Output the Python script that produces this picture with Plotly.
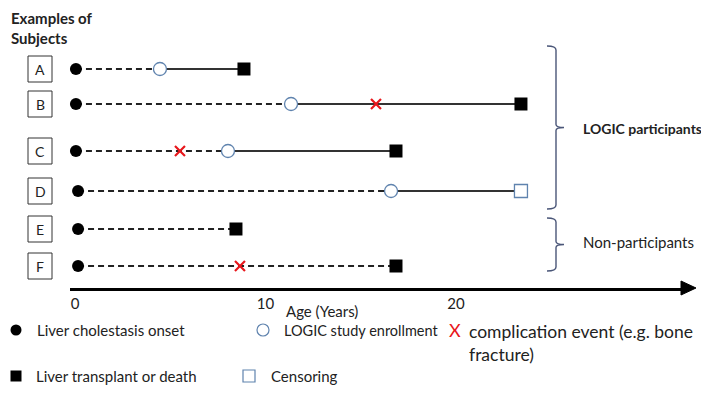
import plotly.graph_objects as go

# ---------------- data ----------------
subjects = ["A", "B", "C", "D", "E", "F"]
onset = [0.05, 0.05, 0.05, 0.16, 0.16, 0.16]
enroll = [4.46, 11.34, 8.03, 16.59, None, None]
end_age = [8.87, 23.41, 16.85, 23.41, 8.45, 16.85]
end_type = ["event", "event", "event", "censor", "event", "event"]
complication = [None, 15.8, 5.51, None, None, 8.66]
tick_vals = [0, 10, 20]
tick_text = ["0", "10", "20"]

W, H = 709, 412
row_y = [61, 96, 143, 183, 221, 258]   # pixel rows (layout)
FONT = "Lato, 'Noto Sans', sans-serif"
OPEN_COL = "#5F83AE"
BRACE_COL = "#4A5678"

fig = go.Figure()

# ---------------- timelines ----------------
for i, s in enumerate(subjects):
    y = row_y[i]
    stop_dash = enroll[i] if enroll[i] is not None else end_age[i]
    fig.add_trace(go.Scatter(x=[onset[i], stop_dash], y=[y, y], mode="lines",
                             line=dict(color="#222222", width=2, dash="6px,4px"),
                             hoverinfo="skip", showlegend=False, xaxis="x", yaxis="y"))
    if enroll[i] is not None:
        fig.add_trace(go.Scatter(x=[enroll[i], end_age[i]], y=[y, y], mode="lines",
                                 line=dict(color="#333333", width=1.8),
                                 hoverinfo="skip", showlegend=False, xaxis="x", yaxis="y"))

# onset markers
fig.add_trace(go.Scatter(x=onset, y=row_y, mode="markers",
                         marker=dict(symbol="circle", size=12, color="black"),
                         showlegend=False, cliponaxis=False))
# enrollment markers
ex = [e for e in enroll if e is not None]
ey = [row_y[i] for i, e in enumerate(enroll) if e is not None]
fig.add_trace(go.Scatter(x=ex, y=ey, mode="markers",
                         marker=dict(symbol="circle", size=13, color="white",
                                     line=dict(color=OPEN_COL, width=1.3)),
                         showlegend=False, cliponaxis=False))
# end markers
tx = [end_age[i] for i in range(6) if end_type[i] == "event"]
ty = [row_y[i] for i in range(6) if end_type[i] == "event"]
fig.add_trace(go.Scatter(x=tx, y=ty, mode="markers",
                         marker=dict(symbol="square", size=13, color="black"),
                         showlegend=False, cliponaxis=False))
cx = [end_age[i] for i in range(6) if end_type[i] == "censor"]
cy = [row_y[i] for i in range(6) if end_type[i] == "censor"]
fig.add_trace(go.Scatter(x=cx, y=cy, mode="markers",
                         marker=dict(symbol="square", size=13, color="white",
                                     line=dict(color=OPEN_COL, width=1.3)),
                         showlegend=False, cliponaxis=False))
# complication markers
kx = [c for c in complication if c is not None]
ky = [row_y[i] for i, c in enumerate(complication) if c is not None]
fig.add_trace(go.Scatter(x=kx, y=ky, mode="markers",
                         marker=dict(symbol="x-thin", size=10,
                                     line=dict(color="#E8161B", width=2.2)),
                         showlegend=False, cliponaxis=False))

# ---------------- overlay (pixel) axis: legend markers ----------------
LEG1, LEG2 = 322, 368
fig.add_trace(go.Scatter(x=[8], y=[LEG1], mode="markers", xaxis="x2", yaxis="y2",
                         marker=dict(symbol="circle", size=11, color="black"), showlegend=False))
fig.add_trace(go.Scatter(x=[255], y=[LEG1], mode="markers", xaxis="x2", yaxis="y2",
                         marker=dict(symbol="circle", size=12, color="white",
                                     line=dict(color=OPEN_COL, width=1.2)), showlegend=False))
fig.add_trace(go.Scatter(x=[8], y=[LEG2], mode="markers", xaxis="x2", yaxis="y2",
                         marker=dict(symbol="square", size=11, color="black"), showlegend=False))
fig.add_trace(go.Scatter(x=[241], y=[LEG2], mode="markers", xaxis="x2", yaxis="y2",
                         marker=dict(symbol="square", size=12, color="white",
                                     line=dict(color=OPEN_COL, width=1.2)), showlegend=False))

shapes = []
# row label boxes
for i, s in enumerate(subjects):
    y = row_y[i]
    shapes.append(dict(type="rect", xref="x2", yref="y2", x0=20, x1=44, y0=y - 13, y1=y + 13,
                       line=dict(color="#333333", width=1), fillcolor="white", layer="below"))


def brace(x_in, x_mid, x_tip, y0, y1):
    ym = (y0 + y1) / 2
    return (f"M{x_in},{y0} Q{x_mid},{y0} {x_mid},{y0 + 4} L{x_mid},{ym - 3} "
            f"Q{x_mid},{ym} {x_tip},{ym} Q{x_mid},{ym} {x_mid},{ym + 3} "
            f"L{x_mid},{y1 - 4} Q{x_mid},{y1} {x_in},{y1}")


shapes.append(dict(type="path", xref="x2", yref="y2", path=brace(539, 548, 556, 38, 201),
                   line=dict(color=BRACE_COL, width=1.4)))
shapes.append(dict(type="path", xref="x2", yref="y2", path=brace(539, 548, 556, 210, 263),
                   line=dict(color=BRACE_COL, width=1.4)))
# arrow head of the time axis
shapes.append(dict(type="path", xref="x2", yref="y2", path="M673,273 L688,280 L673,287 Z",
                   fillcolor="black", line=dict(color="black", width=1)))

annotations = []
for i, s in enumerate(subjects):
    annotations.append(dict(xref="x2", yref="y2", x=32, y=row_y[i], text=s, showarrow=False,
                            font=dict(family=FONT, size=14, color="#222222"),
                            xanchor="center", yanchor="middle"))


def txt(x, y, t, size=15, bold=False, color="#222222", xanchor="left", yanchor="middle", align="left"):
    annotations.append(dict(xref="x2", yref="y2", x=x, y=y, text=(f"<b>{t}</b>" if bold else t),
                            showarrow=False, font=dict(family=FONT, size=size, color=color),
                            xanchor=xanchor, yanchor=yanchor, align=align))


txt(1, 10, "Examples of", size=15, bold=True)
txt(1, 30, "Subjects", size=15, bold=True)
txt(573, 120, "LOGIC participants", size=14, bold=True)
txt(573, 234, "Non-participants", size=15)
txt(314, 303, "Age (Years)", size=15, xanchor="center")
txt(27, LEG1, "Liver cholestasis onset", size=15)
txt(274, LEG1, "LOGIC study enrollment", size=14.5)
txt(447, LEG1, "X", size=18, color="#E8161B", xanchor="center")
txt(459, LEG1 - 11, "complication event (e.g. bone<br>fracture)", size=17.5, yanchor="top")
txt(26, LEG2, "Liver transplant or death", size=15)
txt(261, LEG2, "Censoring", size=15)

AX0, AX1 = 62, 673       # pixel extent of time axis
PX0, PXY = 67, 19.05      # pixel of age 0, pixels per year
fig.update_layout(
    width=W, height=H, margin=dict(l=0, r=0, t=0, b=0),
    paper_bgcolor="white", plot_bgcolor="rgba(0,0,0,0)",
    showlegend=False,
    xaxis=dict(domain=[AX0 / W, AX1 / W],
               range=[(AX0 - PX0) / PXY, (AX1 - PX0) / PXY],
               showgrid=False, zeroline=False, showline=True, linewidth=3, linecolor="black",
               tickvals=tick_vals, ticktext=tick_text, ticks="",
               tickfont=dict(family=FONT, size=15, color="#222222")),
    yaxis=dict(domain=[(H - 280) / H, 1], range=[280, 0], visible=False, fixedrange=True),
    xaxis2=dict(domain=[0, 1], range=[0, W], visible=False, anchor="y2"),
    yaxis2=dict(domain=[0, 1], range=[H, 0], visible=False, anchor="x2"),
    shapes=shapes, annotations=annotations,
)

fig.write_html("out.html")
